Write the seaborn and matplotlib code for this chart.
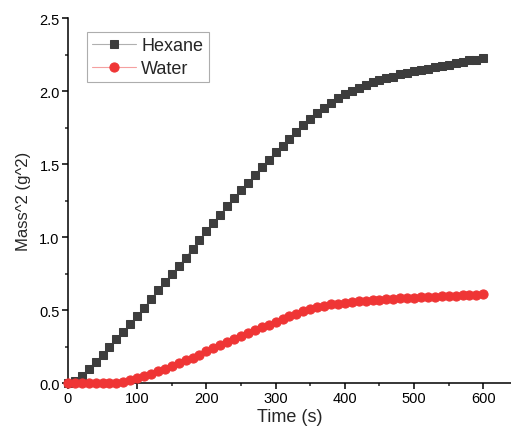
import numpy as np
import pandas as pd
import matplotlib
matplotlib.use("Agg")
import matplotlib.pyplot as plt
import seaborn as sns
from matplotlib.ticker import MultipleLocator

# time axis (s), one reading every 10 s
time_s = list(range(0, 601, 10))

hexane = [0.00, 0.015, 0.05, 0.10, 0.145, 0.195, 0.245, 0.30, 0.35, 0.405,
          0.46, 0.515, 0.575, 0.635, 0.69, 0.745, 0.80, 0.86, 0.92, 0.98,
          1.04, 1.10, 1.155, 1.21, 1.265, 1.32, 1.37, 1.425, 1.48, 1.53,
          1.58, 1.625, 1.67, 1.72, 1.765, 1.81, 1.85, 1.885, 1.92, 1.95,
          1.98, 2.00, 2.02, 2.04, 2.06, 2.075, 2.09, 2.10, 2.115, 2.125,
          2.135, 2.145, 2.155, 2.165, 2.17, 2.18, 2.19, 2.20, 2.21, 2.215,
          2.225]

water = [0.0, 0.0, 0.0, 0.0, 0.0, 0.0, 0.0, 0.003, 0.01, 0.02,
         0.035, 0.05, 0.065, 0.08, 0.10, 0.115, 0.135, 0.155, 0.175, 0.195,
         0.22, 0.24, 0.26, 0.285, 0.305, 0.325, 0.345, 0.365, 0.385, 0.40,
         0.42, 0.44, 0.46, 0.475, 0.495, 0.51, 0.52, 0.53, 0.54, 0.545,
         0.55, 0.555, 0.56, 0.565, 0.57, 0.572, 0.575, 0.578, 0.58, 0.583,
         0.585, 0.587, 0.59, 0.592, 0.595, 0.597, 0.60, 0.602, 0.605, 0.607,
         0.61]

df = pd.DataFrame({"Time": time_s, "Hexane": hexane, "Water": water})

sns.set_theme(style="ticks")
plt.rcParams["font.family"] = ["Liberation Sans", "DejaVu Sans"]

fig = plt.figure(figsize=(5.11, 4.39), dpi=100)
ax = fig.add_axes([0.133, 0.125, 0.867, 0.8314])

sns.lineplot(data=df, x="Time", y="Hexane", ax=ax, color="#b0b0b0", linewidth=0.8,
             marker="s", markersize=5.3, markerfacecolor="#3d3d3d",
             markeredgecolor="#3d3d3d", label="Hexane", clip_on=False, zorder=3)
sns.lineplot(data=df, x="Time", y="Water", ax=ax, color="#f5a0a0", linewidth=0.8,
             marker="o", markersize=6.6, markerfacecolor="#ef3535",
             markeredgecolor="#ef3535", label="Water", clip_on=False, zorder=3)

ax.set_xlim(0, 640)
ax.set_ylim(0, 2.5)
ax.set_xticks(range(0, 601, 100))
ax.set_xticklabels([str(v) for v in range(0, 601, 100)])
ax.xaxis.set_minor_locator(MultipleLocator(50))
ax.yaxis.set_major_locator(MultipleLocator(0.5))
ax.yaxis.set_minor_locator(MultipleLocator(0.25))

ax.tick_params(which="major", direction="out", length=4, width=1.1, labelsize=10.5,
               colors="black", pad=2)
ax.tick_params(which="minor", direction="out", length=2.5, width=1.1)

for side in ["top", "right"]:
    ax.spines[side].set_visible(False)
for side in ["left", "bottom"]:
    ax.spines[side].set_linewidth(1.1)
    ax.spines[side].set_color("black")

ax.set_xlabel("Time (s)", fontsize=13, labelpad=2)
ax.set_ylabel("Mass^2 (g^2)", fontsize=12, labelpad=6)

leg = ax.legend(loc="upper left", bbox_to_anchor=(0.043, 0.962), borderaxespad=0,
                fontsize=13, fancybox=False, frameon=True, handlelength=2.4,
                handletextpad=0.3, labelspacing=0.3, borderpad=0.3)
leg.get_frame().set_edgecolor("#999999")
leg.get_frame().set_linewidth(0.8)

fig.savefig("out.png", dpi=100)
